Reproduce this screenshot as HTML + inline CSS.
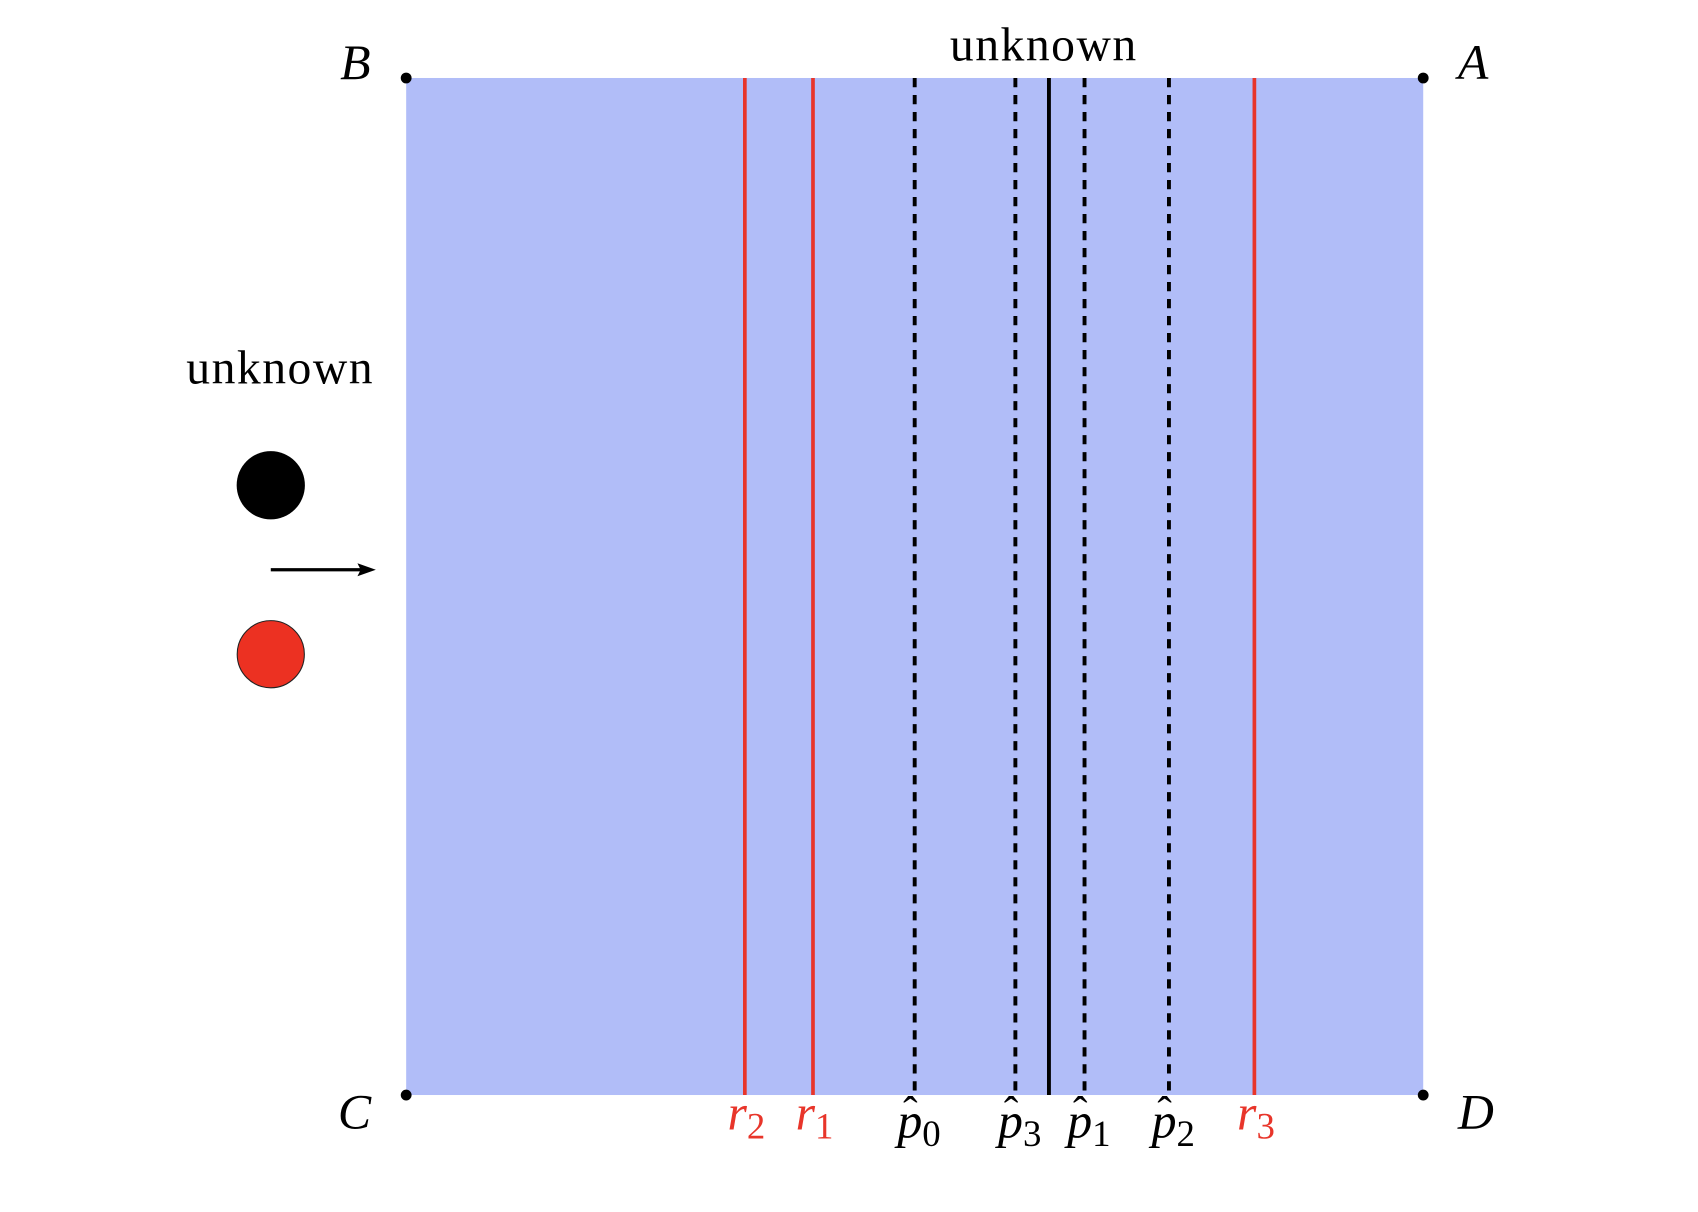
<!DOCTYPE html>
<html><head><meta charset="utf-8"><style>
html,body{margin:0;padding:0;background:#fff;}
svg{display:block;}
text{font-family:"Liberation Serif",serif;}
.m{font-style:italic;}
</style></head><body>
<svg id="chart" width="1698" height="1212" viewBox="0 0 1567.7 1119" xmlns="http://www.w3.org/2000/svg">
<rect x="375" y="72" width="939" height="939" fill="#b1bdf8"/>
<g id="lines"></g>
<g id="labels"></g>
<circle cx="375" cy="72" r="5" fill="#000"/>
<circle cx="1314" cy="72" r="5" fill="#000"/>
<circle cx="375" cy="1011" r="5" fill="#000"/>
<circle cx="1314" cy="1011" r="5" fill="#000"/>
<text class="m" x="314" y="73" font-size="46">B</text>
<text class="m" x="1346" y="73" font-size="46">A</text>
<text class="m" x="312" y="1042" font-size="46">C</text>
<text class="m" x="1346" y="1042" font-size="46">D</text>
<text x="963" y="56" font-size="44" text-anchor="middle" textLength="172">unknown</text>
<text x="258" y="354" font-size="44" text-anchor="middle" textLength="172">unknown</text>
<circle cx="250" cy="448" r="31.5" fill="#000"/>
<line x1="250" y1="526" x2="335" y2="526" stroke="#000" stroke-width="3"/>
<polygon points="347,526 330,520 333,526 330,532" fill="#000"/>
<circle cx="250" cy="604" r="31" fill="#ec3122" stroke="#222" stroke-width="1"/>
</svg>
<script>
const lineNames = ["r2","r1","p0","p3","truth","p1","p2","r3"];
const lineValues = [0.333,0.400,0.500,0.599,0.632,0.667,0.750,0.834];
const lineKinds = ["red","red","dash","dash","solid","dash","dash","red"];
const labelBase = ["r","r","p","p","","p","p","r"];
const labelSub = ["2","1","0","3","","1","2","3"];
const NS="http://www.w3.org/2000/svg";
const x0=375,x1=1314,yTop=72,yBot=1011;
function xs(v){return x0+v*(x1-x0);}
const lg=document.getElementById('lines'), tg=document.getElementById('labels');
lineValues.forEach((v,i)=>{
  const x=xs(v);
  const l=document.createElementNS(NS,'line');
  
  
  l.setAttribute('x1',x);l.setAttribute('x2',x);l.setAttribute('y1',yTop);l.setAttribute('y2',yBot);
  const k=lineKinds[i];
  l.setAttribute('stroke', k==='red'?'#e8352a':'#000');
  l.setAttribute('stroke-width', k==='red'?3.4:3.6);
  if(k==='dash') l.setAttribute('stroke-dasharray','8.5 7.2');
  lg.appendChild(l);
  if(labelBase[i]){
    const t=document.createElementNS(NS,'text');
    
    
    const isR=labelBase[i]==='r';
    t.setAttribute('x',x-16);
    t.setAttribute('y',isR?1043:1050);
    t.setAttribute('font-size','46');
    t.setAttribute('fill',isR?'#e8352a':'#000');
    const b=document.createElementNS(NS,'tspan');
    b.setAttribute('class','m');b.textContent=labelBase[i];
    t.appendChild(b);
    const s=document.createElementNS(NS,'tspan');
    s.setAttribute('dy','8');s.setAttribute('font-size','34');s.textContent=labelSub[i];
    t.appendChild(s);
    tg.appendChild(t);
    if(!isR){
      const h=document.createElementNS(NS,'text');
      
      
      h.setAttribute('x',x-4);h.setAttribute('y',1040);h.setAttribute('font-size','40');
      h.setAttribute('text-anchor','middle');h.textContent='ˆ';
      tg.appendChild(h);
    }
  }
});
</script>
</body></html>
